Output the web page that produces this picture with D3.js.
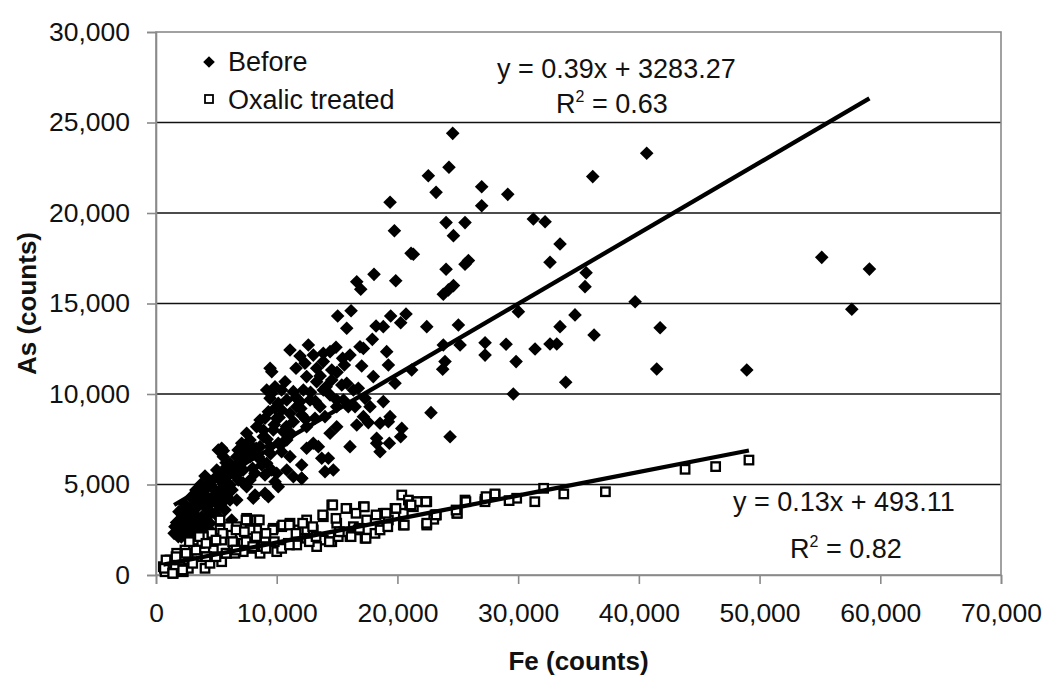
<!DOCTYPE html>
<html>
<head>
<meta charset="utf-8">
<script src="https://cdn.jsdelivr.net/npm/d3@7"></script>
<style>
  html, body { margin: 0; padding: 0; background: #fff; }
  svg { display: block; }
  text { font-family: "Liberation Sans", Arial, sans-serif; fill: #111; }
</style>
</head>
<body>
<svg id="chart" width="1050" height="686"></svg>
<script>
// ---------- data (Fe counts, As counts) ----------
const beforePoints = [
  [40650,23300],[36180,22010],[26980,21450],[26980,20400],[29140,21030],[31260,19670],[32230,19520],
  [33470,18290],[32640,17280],[35630,16700],[35540,15930],[39690,15100],[55150,17550],[59100,16900],
  [57640,14680],[30020,14550],[34710,14370],[41760,13660],[33470,13720],[36290,13260],[27260,12830],
  [29000,12750],[31400,12490],[32640,12760],[33200,12760],[27260,12150],[29830,11790],[41480,11380],
  [48940,11330],[33940,10650],[29600,10000],
  [24580,24400],[24270,22530],[22560,22060],[23200,21140],[19390,20590],[19750,19020],[24030,19470],
  [25600,19470],[24640,18750],[21130,17770],[21320,17720],[18060,16610],[16630,16200],[16960,15790],
  [19860,16260],[24030,16890],[25600,17170],[25880,17370],[23800,15510],[24220,15750],[24640,15990],
  [15050,14310],[16160,14600],[19440,14310],[20710,14420],
  [15800,13630],[20270,13940],[18230,13760],[18830,13720],[22430,13720],[25050,13810],[25190,12710],
  [23800,12710],[23940,11790],[23750,11370],[21180,11330],[19800,10590],[18830,9580],[22780,8970],
  [24360,7640],[20360,8100],[20270,7640],[19390,8750],[19330,7280],[18280,7280],[18560,6810],
  [19250,8470],[18560,8380],[17590,8420],[18000,10960],[17040,11550],[17180,12520],[16900,12610],
  [17920,13020],[19110,12340],[19250,11600],[16350,10220],[15800,10590],[15390,10500],[14910,12580],
  [14420,12340],[13860,11790],[14560,11330],[15460,11970],[16070,12150],[16760,10320],[17320,9760],
  [15930,9300],[14970,9300],[14420,9950],[13310,10680],[12480,10960],[12620,12710],[11100,12430],
  [11930,12100],[13030,12150],[13860,12250],[12340,11700],[13310,11420],[11600,11420],[9450,11420],
  [9590,11230],[9170,10220],[9450,9760],[9860,10400],[10410,10220],[10690,10680],[11380,10130],
  [10830,9670],[10130,9490],[9860,9210],[9030,8660],[10000,8660],[11100,8930],[11380,8470],
  [12070,8840],[12480,8190],[13170,8660],[13590,9300],[14000,8750],[12760,9670],[11930,9580],
  [13030,7280],[13730,6450],[14000,5710],[14690,5800],[13450,7090],[12480,7000],[12070,6080],
  [11100,6540],[11380,5430],[12070,5340],[10830,5800],[10000,5620],[9860,5150],[9030,4510],
  [8060,4240],[7510,4880],[6690,4140],[8760,6080],[8620,7090],[9450,7090],[10410,6810],[8890,7640],
  [9720,8010],[7790,7460],[7230,7000],[6690,6540],[6130,6170],[5580,6540],[5160,6910],[5440,7000],
  [7100,7280],[8340,8190],[7510,7830],[7790,6540],[8200,5620],[7230,5800],[6400,5620],[5860,5430],
  [5300,5250],[5030,5800],[4610,4880],[4060,5470],[4200,4330],[3650,3960],[5720,4510],[5440,3960],
  [4890,3410],[4470,2860],[3090,3410],[2540,3770],[2260,3040],[1850,2670],[1710,2300],[2820,2300],
  [3650,2490],[3920,3040],[2130,3410],[3370,4140],[2960,3770],[2260,2490],[5160,3870],[6130,4970],
  [6820,5250],[6130,4140],[5300,4600],[4750,4330],[4200,3680],[3790,3220],[3510,2950],[2680,2860],
  [6690,6080],[6960,5710],[7370,6350],[8060,6810],[8480,6540],[9170,6170],[9590,5800],[9030,5530],
  [7790,5250],[5860,5980],[4470,5150],[3920,4510],[10130,7280],[10550,7920],[10830,7460],[9310,9020],
  [8620,8560],[9590,10040],[10410,9120],[11660,9300],[12210,10220],[13860,10220],[14560,10770],
  [14970,9670],[15530,9670],[16490,9300],[17180,8750],[18280,7550],[16070,7090],[14420,7830],
  [14970,8190],[16630,8290],[17730,9300],
  [5580,6870],[8200,4420],[9310,4330],[10130,4880],[12070,5340],[14280,6450],[5720,3590],[1990,3040],
  [1570,2670],[1850,2120],[2680,2120],[3510,2490],[5160,3220],[4330,3590],[6270,3040],
  [1500,2300],[1700,2900],[2000,2500],[2200,3300],[2400,2800],[2600,3500],[2800,3100],[3000,2700],
  [3200,3600],[3400,3200],[3600,4400],[3800,2800],[4000,3900],[4200,4800],[4400,3300],[4600,4000],
  [4800,5300],[5000,4600],[5200,4300],[5400,5600],[5600,4900],[5800,6200],[6000,5500],[6300,4700],
  [6500,5900],[6800,6900],[7000,6200],[7200,5100],[7500,6700],[7800,7200],[8000,5900],[8300,7000],
  [8600,6400],[8900,8000],[9200,7500],[9500,6700],[9800,8300],[10200,8700],[10500,7300],[10800,8200],
  [11200,7800],[11600,9800],[12000,9200],[12400,8600],[12800,10100],[13200,9600],[13600,11000],
  [14100,10400],[15000,11200],[15600,11600],[2400,3900],[2900,4300],[3300,4700],[3700,5000],
  [1900,3500],[2100,2100],[3100,2200],[4300,2600]
];

const oxalicPoints = [
  [20360,4420],[20910,4140],[21600,4050],[22430,4050],[23120,3320],[22430,2760],[24910,3410],[25600,4140],
  [27260,4180],[28090,4420],[20490,2760],[19800,3680],[19110,2670],[18830,3410],[17180,3770],[17450,3040],
  [15800,3680],[14560,3870],[13860,3220],[14970,2860],[16070,2120],[17320,2030],[16350,2670],[12480,3040],
  [13030,2490],[13860,1930],[14560,1840],[11790,2490],[11100,2860],[10410,2670],[9720,2580],[10960,1750],
  [10000,1290],[9030,1930],[8340,2490],[7650,3040],[7790,2490],[7230,1750],[6400,1660],[6270,2300],
  [5990,2670],[5300,2490],[5440,1930],[4750,1930],[4750,1380],[4200,1010],[3370,1010],[2820,735],
  [2260,645],[1710,1200],[1570,460],[890,460],[750,180],[1430,90],[2260,180],[2680,370],[4060,370],
  [4470,645],[5440,735],[5860,1200],[6540,1200],[7230,1290],[8060,1470],[8620,1200],[8890,1570],
  [10410,1470],[11660,1660],[12480,2030],[13310,1570],[15100,2120],[15530,2390],[16760,2490],[18140,2300],
  [18560,2490],[19250,3040],[20490,3410],[21320,3770],[3650,1750],[2960,1380],[2400,1380],[5300,3040],
  [7510,3130],[8340,3040],[6690,2670],[4610,2300],[3920,2120],[3090,1930],[1990,830],[1160,830],[610,460],
  [43830,5840],[46360,5990],[49120,6350],[37230,4600],[33780,4480],[32110,4790],[31380,4050],[29880,4240],
  [29250,4110],[28080,4480],[27250,4050],[27340,4330],[25670,4050],[24970,3410],[23220,3320],[23010,3080],
  [22370,4050],[21010,3870],[21640,4050],
  [7460,3040],[8560,3040],[6630,2490],[5520,2300],[4970,1930],[6350,1840],[7460,1840],[7320,2390],
  [9670,2490],[10500,2760],[11050,2760],[9800,1840],[11050,1660],[12150,2860],[12980,2670],[12700,1840],
  [13810,3320],[14640,3870],[14910,3130],[14360,1840],[15740,3680],[16570,3410],[17260,3770],[16160,2120],
  [17400,2030],[18230,3320],[19060,3410],[19880,3680],[19200,2670],[20570,2760],[21130,3870],[22370,4050],
  [23200,3320],[22430,2860],[24860,3590],[3310,1380],[2490,1200],[1660,1010],[830,830],[690,370],
  [1380,90],[2210,280],[3040,645],[4140,1010],[4970,1010],[5800,1200],[6630,1380],[3590,2120],
  [4140,1750],[2760,1840],[8290,2120],[9110,2300],[8010,1570],[9110,1470],[11600,2300],[13260,2120],
  [15190,2390],[16850,2580]
];

const xTicks = [0, 10000, 20000, 30000, 40000, 50000, 60000, 70000];
const yTicks = [0, 5000, 10000, 15000, 20000, 25000, 30000];
const gridValues = [5000, 10000, 15000, 20000, 25000];

const trendBefore = [0.39, 3283.27];
const trendOxalic = [0.13, 493.11];
const legendLabels = ["Before", "Oxalic treated"];

// ---------- layout ----------
const svg = d3.select("#chart");
const L = 156, R = 1001, T = 32, B = 575;
const x = d3.scaleLinear().domain([0, 70000]).range([L, R]);
const y = d3.scaleLinear().domain([0, 30000]).range([B, T]);
const fmt = d3.format(",");

// gridlines
svg.append("g").selectAll("line").data(gridValues).join("line")
  .attr("x1", L).attr("x2", R)
  .attr("y1", d => y(d)).attr("y2", d => y(d))
  .attr("stroke", "#111").attr("stroke-width", 1.7);

// frame
svg.append("rect").attr("x", L).attr("y", T).attr("width", R - L).attr("height", B - T)
  .attr("fill", "none").attr("stroke", "#8a8a8a").attr("stroke-width", 1.6);

// axes
const xAxis = d3.axisBottom(x).tickValues(xTicks).tickFormat(fmt).tickSize(9).tickPadding(19);
const gx = svg.append("g").attr("transform", `translate(0,${B})`).call(xAxis);
const yAxis = d3.axisLeft(y).tickValues(yTicks).tickFormat(fmt).tickSize(9).tickPadding(17);
const gy = svg.append("g").attr("transform", `translate(${L},0)`).call(yAxis);
[gx, gy].forEach(g => {
  g.select(".domain").attr("stroke", "#8a8a8a").attr("stroke-width", 1.6);
  g.selectAll(".tick line").attr("stroke", "#8a8a8a").attr("stroke-width", 1.6);
  g.selectAll(".tick text").attr("font-size", 26.5).attr("fill", "#111")
    .attr("font-family", "'Liberation Sans', Arial, sans-serif");
});

// axis titles
svg.append("text").attr("x", (L + R) / 2).attr("y", 670).attr("text-anchor", "middle")
  .attr("font-size", 26).attr("font-weight", "bold").text("Fe (counts)");
svg.append("text").attr("transform", `translate(36,${(T + B) / 2}) rotate(-90)`)
  .attr("text-anchor", "middle").attr("font-size", 26).attr("font-weight", "bold").text("As (counts)");

// markers
const diamond = r => `M0,${-r}L${r},0L0,${r}L${-r},0Z`;
svg.append("g").selectAll("path").data(beforePoints).join("path")
  .attr("d", diamond(6.8))
  .attr("transform", d => `translate(${x(d[0])},${y(d[1])})`)
  .attr("fill", "#000");

const sq = 8.5;
svg.append("g").selectAll("rect").data(oxalicPoints).join("rect")
  .attr("x", d => x(d[0]) - sq / 2).attr("y", d => y(d[1]) - sq / 2)
  .attr("width", sq).attr("height", sq)
  .attr("fill", "#fff").attr("stroke", "#000").attr("stroke-width", 2.3);

// trendlines
function trend(points, coef) {
  const ext = d3.extent(points, d => d[0]);
  return ext.map(v => [v, coef[0] * v + coef[1]]);
}
const line = d3.line().x(d => x(d[0])).y(d => y(d[1]));
svg.append("path").datum(trend(beforePoints, trendBefore)).attr("d", line)
  .attr("stroke", "#000").attr("stroke-width", 4.3).attr("fill", "none");
svg.append("path").datum(trend(oxalicPoints, trendOxalic)).attr("d", line)
  .attr("stroke", "#000").attr("stroke-width", 4.3).attr("fill", "none");

// equation labels
function eq(xp, yp, coef) {
  svg.append("text").attr("x", xp).attr("y", yp).attr("font-size", 27)
    .text(`y = ${coef[0].toFixed(2)}x + ${coef[1].toFixed(2)}`);
}
function r2(xp, yp, val) {
  const t = svg.append("text").attr("x", xp).attr("y", yp).attr("font-size", 27);
  t.append("tspan").text("R");
  t.append("tspan").attr("font-size", 16).attr("dy", -11).text("2");
  t.append("tspan").attr("dy", 11).text(" = " + val);
}
eq(497, 78, trendBefore);
r2(556, 113, "0.63");
eq(733, 511, trendOxalic);
r2(790, 558, "0.82");

// legend
const lg = svg.append("g");
lg.append("path").attr("d", diamond(5.8)).attr("transform", "translate(209,62)").attr("fill", "#000");
lg.append("rect").attr("x", 205).attr("y", 95).attr("width", 8).attr("height", 8)
  .attr("fill", "#fff").attr("stroke", "#000").attr("stroke-width", 1.8);
lg.append("text").attr("x", 228).attr("y", 71).attr("font-size", 27).text(legendLabels[0]);
lg.append("text").attr("x", 228).attr("y", 109).attr("font-size", 27).text(legendLabels[1]);
</script>
</body>
</html>
